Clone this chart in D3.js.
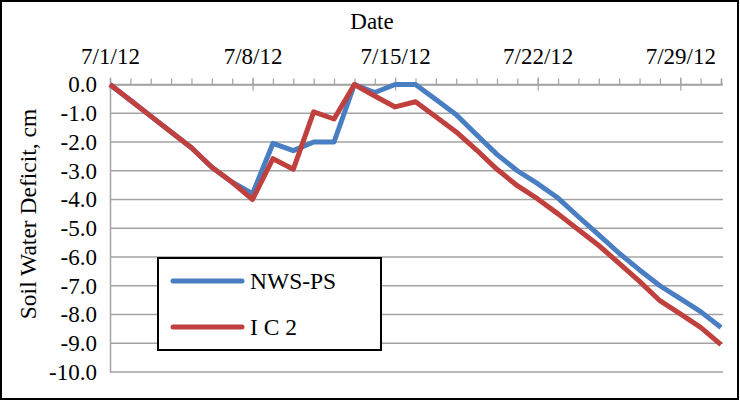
<!DOCTYPE html>
<html>
<head>
<meta charset="utf-8">
<script src="https://cdn.jsdelivr.net/npm/d3@7"></script>
<style>
	body { margin: 0; background: #fff; }
	svg { display: block; }
	svg text { font-family: "Liberation Serif", "Times New Roman", serif; fill: #000; }
</style>
</head>
<body>
<svg id="chart" width="740" height="401"></svg>
<script>
// days of July 2012
const dates = ["2012-07-01","2012-07-02","2012-07-03","2012-07-04","2012-07-05","2012-07-06","2012-07-07",
	"2012-07-08","2012-07-09","2012-07-10","2012-07-11","2012-07-12","2012-07-13","2012-07-14",
	"2012-07-15","2012-07-16","2012-07-17","2012-07-18","2012-07-19","2012-07-20","2012-07-21",
	"2012-07-22","2012-07-23","2012-07-24","2012-07-25","2012-07-26","2012-07-27","2012-07-28",
	"2012-07-29","2012-07-30","2012-07-31"];
const nwsPs = [0, -0.55, -1.1, -1.65, -2.2, -2.88, -3.4, -3.8, -2.05, -2.3, -2.0, -2.0, 0, -0.28,
	0, 0, -0.52, -1.05, -1.75, -2.43, -3.0, -3.45, -3.95, -4.6, -5.23, -5.87, -6.45, -7.0, -7.45, -7.9, -8.45];
const ic2 = [0, -0.55, -1.1, -1.65, -2.2, -2.88, -3.4, -4.0, -2.58, -2.95, -0.95, -1.2, 0, -0.4,
	-0.78, -0.6, -1.12, -1.65, -2.28, -2.95, -3.52, -3.98, -4.5, -5.05, -5.6, -6.22, -6.85, -7.52, -7.98, -8.45, -9.05];
const yTicks = [0, -1, -2, -3, -4, -5, -6, -7, -8, -9, -10];
const seriesNames = ["NWS-PS", "I C 2"];
const seriesColors = ["#4a7ec2", "#c0403e"];

const parse = d3.timeParse("%Y-%m-%d");
const days = dates.map(parse);

const svg = d3.select("#chart");
const mLeft = 110, mRight = 721, mTop = 84.5, mBottom = 372;

// outer frame
svg.append("rect")
	.attr("x", 1).attr("y", 1).attr("width", 737).attr("height", 398)
	.attr("fill", "#fff").attr("stroke", "#000").attr("stroke-width", 2);

const x = d3.scaleTime().domain(d3.extent(days)).range([mLeft, mRight]);
const y = d3.scaleLinear().domain([-10, 0]).range([mBottom, mTop]);

const fmt = d3.formatLocale({ decimal: ".", thousands: ",", grouping: [3], currency: ["", ""], minus: "-" }).format(".1f");

// horizontal grid
svg.append("g").selectAll("line").data(yTicks).join("line")
	.attr("x1", mLeft).attr("x2", mRight + 2)
	.attr("y1", d => y(d)).attr("y2", d => y(d))
	.attr("stroke", "#a3a3a3").attr("stroke-width", 1.5);

// y axis
const yAxis = svg.append("g")
	.attr("transform", `translate(${mLeft},0)`)
	.call(d3.axisLeft(y).tickValues(yTicks).tickFormat(fmt).tickSize(0).tickPadding(13));
yAxis.attr("font-family", null).attr("font-size", null);
yAxis.select(".domain").attr("stroke", "#a3a3a3").attr("stroke-width", 1.5);
yAxis.selectAll("text").style("font-size", "23px");

// x axis at top: minor daily ticks
const xMinor = svg.append("g")
	.attr("transform", `translate(0,${mTop})`)
	.call(d3.axisTop(x).ticks(d3.timeDay.every(1)).tickSize(6).tickFormat(""));
xMinor.select(".domain").attr("stroke", "#a3a3a3").attr("stroke-width", 1.5);
xMinor.selectAll(".tick line").attr("stroke", "#a3a3a3").attr("stroke-width", 1.2);

// major weekly ticks with labels
const xMajor = svg.append("g")
	.attr("transform", `translate(0,${mTop})`)
	.call(d3.axisTop(x).ticks(d3.timeDay.every(7)).tickSize(7).tickFormat(d3.timeFormat("%-m/%-d/%y")));
xMajor.attr("font-family", null).attr("font-size", null);
xMajor.select(".domain").remove();
xMajor.selectAll(".tick line").attr("y2", -7).attr("y1", 6).attr("stroke", "#a3a3a3").attr("stroke-width", 1.2);
xMajor.selectAll("text").attr("y", -21).attr("dy", 0).style("font-size", "23px");

// titles
svg.append("text").attr("x", 372).attr("y", 29).attr("text-anchor", "middle")
	.style("font-size", "23px").text("Date");
svg.append("text")
	.attr("transform", "translate(36,214) rotate(-90)")
	.attr("text-anchor", "middle").style("font-size", "23.5px")
	.text("Soil Water Deficit, cm");

// series lines
const line = d3.line().x((d, i) => x(days[i])).y(d => y(d));
[nwsPs, ic2].forEach((s, k) => {
	svg.append("path").datum(s)
		.attr("d", line)
		.attr("fill", "none")
		.attr("stroke", seriesColors[k])
		.attr("stroke-width", 5)
		.attr("stroke-linejoin", "round");
});

// legend
const lg = svg.append("g");
lg.append("rect").attr("x", 158).attr("y", 258).attr("width", 223).attr("height", 92)
	.attr("fill", "#fff").attr("stroke", "#000").attr("stroke-width", 2);
seriesNames.forEach((n, k) => {
	const yy = 281 + k * 46;
	lg.append("line").attr("x1", 173).attr("x2", 242).attr("y1", yy).attr("y2", yy)
		.attr("stroke", seriesColors[k]).attr("stroke-width", 5).attr("stroke-linecap", "round");
	lg.append("text").attr("x", 250).attr("y", yy + 8).style("font-size", "23.5px").text(n);
});
</script>
</body>
</html>
